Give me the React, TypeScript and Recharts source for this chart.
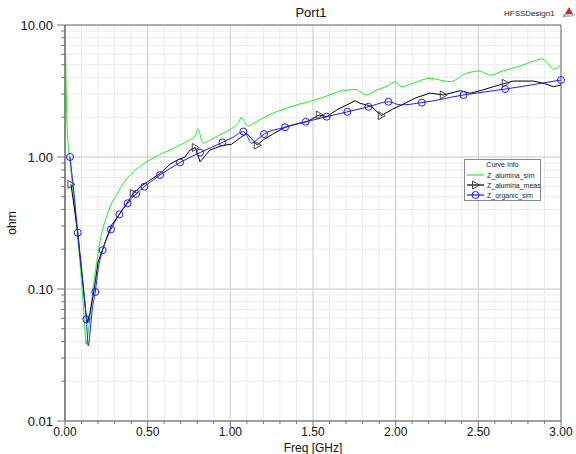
import { LineChart, Line, XAxis, YAxis, CartesianGrid, Legend, ReferenceLine } from 'recharts';

// [freq GHz, |Z| ohm, marker?]
type Pt = [number, number, number?];

const aluminaSim: Pt[] = [
  [0, 9.9], [0.004, 5.6], [0.01, 2.2], [0.02, 1.2], [0.03, 0.95], [0.04, 0.7], [0.05, 0.52],
  [0.06, 0.4], [0.07, 0.3], [0.08, 0.22], [0.09, 0.16], [0.1, 0.115], [0.11, 0.077], [0.12, 0.05],
  [0.127, 0.038], [0.135, 0.042], [0.147, 0.055], [0.167, 0.095], [0.185, 0.14], [0.2, 0.185],
  [0.212, 0.23], [0.23, 0.29], [0.25, 0.35], [0.28, 0.44], [0.313, 0.52], [0.36, 0.65], [0.413, 0.77],
  [0.46, 0.86], [0.514, 0.95], [0.57, 1.04], [0.635, 1.13], [0.7, 1.24], [0.76, 1.36], [0.79, 1.46],
  [0.805, 1.63], [0.815, 1.52], [0.825, 1.34], [0.837, 1.27], [0.87, 1.33], [0.95, 1.5], [1.02, 1.68],
  [1.05, 1.82], [1.067, 2.0], [1.08, 1.9], [1.1, 1.74], [1.109, 1.72], [1.14, 1.8], [1.24, 2.1],
  [1.33, 2.32], [1.42, 2.52], [1.52, 2.72], [1.6, 2.95], [1.684, 3.2], [1.72, 3.22], [1.76, 3.25],
  [1.79, 3.1], [1.82, 2.95], [1.886, 3.22], [1.95, 3.45], [1.996, 3.72], [2.037, 3.41], [2.1, 3.6],
  [2.208, 3.95], [2.26, 3.85], [2.329, 3.72], [2.43, 4.31], [2.51, 4.48], [2.54, 4.31], [2.571, 4.17],
  [2.65, 4.5], [2.752, 4.89], [2.83, 5.3], [2.884, 5.53], [2.91, 5.3], [2.954, 4.64], [3.0, 4.97],
];

const aluminaMeas: Pt[] = [
  [0.036, 0.62, 1], [0.05, 0.47], [0.077, 0.267], [0.1, 0.14], [0.115, 0.09], [0.127, 0.065],
  [0.137, 0.056], [0.15, 0.065], [0.177, 0.1], [0.2, 0.16], [0.228, 0.2], [0.26, 0.26], [0.282, 0.305],
  [0.33, 0.37], [0.37, 0.44], [0.413, 0.53, 1], [0.46, 0.6], [0.5, 0.65], [0.575, 0.75], [0.635, 0.88],
  [0.68, 0.95], [0.726, 1.0], [0.756, 1.13], [0.788, 1.18, 1], [0.817, 0.92], [0.877, 1.13],
  [0.95, 1.22], [1.008, 1.25], [1.06, 1.4], [1.099, 1.51], [1.163, 1.23, 1], [1.2, 1.35], [1.26, 1.5],
  [1.331, 1.68], [1.4, 1.78], [1.462, 1.85], [1.538, 2.08, 1], [1.583, 2.02], [1.65, 2.3], [1.724, 2.55],
  [1.754, 2.67], [1.785, 2.55], [1.825, 2.48], [1.855, 2.4], [1.913, 2.06, 1], [1.98, 2.3], [2.047, 2.52],
  [2.12, 2.8], [2.208, 3.05], [2.288, 2.95, 1], [2.39, 3.18], [2.45, 3.04], [2.52, 3.2], [2.591, 3.41],
  [2.663, 3.62, 1], [2.712, 3.76], [2.833, 3.76], [2.9, 3.6], [2.954, 3.41], [3.0, 3.51],
];

const organicSim: Pt[] = [
  [0.03, 1.0, 1], [0.05, 0.6], [0.077, 0.267, 1], [0.1, 0.14], [0.12, 0.08], [0.129, 0.059, 1],
  [0.141, 0.037], [0.15, 0.045], [0.165, 0.07], [0.183, 0.095, 1], [0.2, 0.14], [0.228, 0.197, 1],
  [0.278, 0.283, 1], [0.329, 0.368, 1], [0.379, 0.446, 1], [0.43, 0.525, 1], [0.48, 0.596, 1],
  [0.575, 0.73, 1], [0.696, 0.91, 1], [0.817, 1.08, 1], [0.952, 1.29, 1], [1.02, 1.42], [1.079, 1.56, 1],
  [1.1, 1.45], [1.129, 1.27], [1.16, 1.35], [1.204, 1.49, 1], [1.331, 1.68, 1], [1.456, 1.85, 1],
  [1.583, 2.02, 1], [1.708, 2.2, 1], [1.835, 2.4, 1], [1.956, 2.62, 1], [2.03, 2.48], [2.158, 2.58, 1],
  [2.41, 2.95, 1], [2.662, 3.27, 1], [3.0, 3.83, 1],
];

const xTicks = [0, 0.1, 0.2, 0.3, 0.4, 0.5, 0.6, 0.7, 0.8, 0.9, 1, 1.1, 1.2, 1.3, 1.4, 1.5, 1.6, 1.7, 1.8, 1.9,
  2, 2.1, 2.2, 2.3, 2.4, 2.5, 2.6, 2.7, 2.8, 2.9, 3];
const xMajor = [0, 0.5, 1, 1.5, 2, 2.5, 3];
const yTicks = [0.01, 0.02, 0.03, 0.04, 0.05, 0.06, 0.07, 0.08, 0.09, 0.1, 0.2, 0.3, 0.4, 0.5, 0.6, 0.7, 0.8, 0.9,
  1, 2, 3, 4, 5, 6, 7, 8, 9, 10];
const yMajor = [0.01, 0.1, 1, 10];

const series = [
  { name: 'Z_alumina_sim', color: '#22ee22', marker: 'none', points: aluminaSim, curve: 'monotone' },
  { name: 'Z_alumina_meas', color: '#000000', marker: 'triangle', points: aluminaMeas, curve: 'linear' },
  { name: 'Z_organic_sim', color: '#1a1aff', marker: 'circle', points: organicSim, curve: 'monotone' },
];

const FONT = '"Liberation Sans", Arial, sans-serif';

function Marker({ kind, cx, cy, color }: { kind: string; cx: number; cy: number; color: string }) {
  if (kind === 'circle') {
    return <circle cx={cx} cy={cy} r={3.5} fill="none" stroke={color} strokeWidth={1} />;
  }
  if (kind === 'triangle') {
    return (
      <polygon
        points={`${cx - 3},${cy - 4} ${cx + 4},${cy} ${cx - 3},${cy + 4}`}
        fill="none"
        stroke="#444"
        strokeWidth={1}
      />
    );
  }
  return null;
}

function YTick(props: any) {
  const { x, y, payload } = props;
  const major = yMajor.includes(payload.value);
  return (
    <g>
      <line x1={major ? x + 4 : x + 8} x2={x + 12} y1={y} y2={y} stroke="#777" />
      {major && (
        <text x={x} y={y} textAnchor="end" dominantBaseline="central" fontSize={13} fill="#111">
          {payload.value.toFixed(2)}
        </text>
      )}
    </g>
  );
}

function XTick(props: any) {
  const { x, y, payload } = props;
  const major = xMajor.includes(payload.value);
  return (
    <g>
      <line x1={x} x2={x} y1={y - 8} y2={major ? y - 2 : y - 5} stroke="#777" />
      {major && (
        <text x={x} y={y + 7} textAnchor="middle" fontSize={12} fill="#111">
          {payload.value.toFixed(2)}
        </text>
      )}
    </g>
  );
}

function CurveInfo() {
  return (
    <div
      style={{
        boxSizing: 'border-box',
        width: 77,
        height: 42,
        border: '1px solid #888',
        background: '#fff',
        fontFamily: FONT,
        fontSize: 7,
        color: '#222',
        overflow: 'hidden',
        whiteSpace: 'nowrap',
      }}
    >
      <div style={{ height: 10, lineHeight: '10px', textAlign: 'center', color: '#222' }}>Curve Info</div>
      {series.map((s) => (
        <div key={s.name} style={{ height: 10, display: 'flex', alignItems: 'center' }}>
          <svg width={19} height={10} style={{ marginLeft: 1, flex: 'none' }}>
            <line x1={1} x2={18} y1={5} y2={5} stroke={s.color} strokeWidth={1.2} />
            <Marker kind={s.marker} cx={9.5} cy={5} color={s.color} />
          </svg>
          <span style={{ marginLeft: 2, color: '#222' }}>{s.name}</span>
        </div>
      ))}
    </div>
  );
}

export default function App() {
  return (
    <div style={{ position: 'absolute', left: 0, top: 0, width: 576, height: 454, background: '#fff', fontFamily: FONT }}>
      <div style={{ position: 'absolute', left: 261, top: 5, width: 100, textAlign: 'center', fontSize: 13, color: '#111' }}>
        Port1
      </div>
      <div style={{ position: 'absolute', left: 504, top: 9, fontSize: 8, color: '#222' }}>HFSSDesign1</div>
      <svg style={{ position: 'absolute', left: 563, top: 6 }} width={12} height={12}>
        <polygon points="6,1 10,8 2,8" fill="#c0302a" />
        <text x={6} y={11} textAnchor="middle" fontSize={3} fill="#444">ANSOFT</text>
      </svg>
      <LineChart width={576} height={454} margin={{ top: 25, right: 15, left: 0, bottom: 0 }}>
        <CartesianGrid verticalValues={xTicks} horizontalValues={yTicks} stroke="#ebebeb" />
        <CartesianGrid verticalValues={xMajor} horizontalValues={yMajor} stroke="#d0d0d0" />
        <XAxis
          dataKey="f"
          type="number"
          domain={[0, 3]}
          ticks={xTicks}
          interval={0}
          height={33}
          tickSize={6}
          tickMargin={2}
          tickLine={false}
          tick={<XTick />}
          axisLine={{ stroke: '#888', strokeWidth: 1.5 }}
          allowDuplicatedCategory={false}
          label={{ value: 'Freq [GHz]', position: 'insideBottom', offset: 2, fontSize: 12, fill: '#111' }}
        />
        <YAxis
          dataKey="z"
          type="number"
          scale="log"
          domain={[0.01, 10]}
          allowDataOverflow
          ticks={yTicks}
          interval={0}
          width={65}
          tickSize={8}
          tickMargin={4}
          tickLine={false}
          tick={<YTick />}
          axisLine={{ stroke: '#888', strokeWidth: 2 }}
          label={{
            content: () => (
              <text x={12} y={223} transform="rotate(-90 12 223)" textAnchor="middle" dominantBaseline="central" fontSize={12} fill="#111">
                ohm
              </text>
            ),
          }}
        />
        <ReferenceLine y={10} stroke="#777" />
        <ReferenceLine x={3} stroke="#777" />
        {series.map((s) => (
          <Line
            key={s.name}
            name={s.name}
            data={s.points.map(([f, z, m]) => ({ f, z, m: !!m }))}
            dataKey="z"
            type={s.curve as any}
            stroke={s.color}
            strokeWidth={1}
            isAnimationActive={false}
            activeDot={false}
            dot={(p: any) =>
              p.payload.m ? (
                <Marker key={`${s.name}-${p.index}`} kind={s.marker} cx={p.cx} cy={p.cy} color={s.color} />
              ) : (
                <g key={`${s.name}-${p.index}`} />
              )
            }
          />
        ))}
        <Legend
          layout="vertical"
          align="center"
          verticalAlign="middle"
          wrapperStyle={{ left: 464, top: 159, width: 77, height: 42 }}
          content={() => <CurveInfo />}
        />
      </LineChart>
    </div>
  );
}
